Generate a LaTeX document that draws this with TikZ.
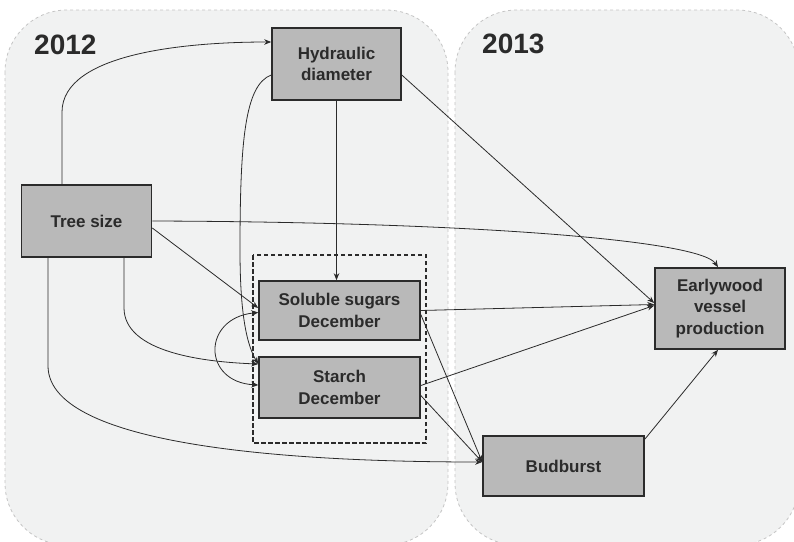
\documentclass[tikz,border=0pt]{standalone}
\usepackage{fontspec}
\setmainfont{Liberation Sans}
\usetikzlibrary{arrows.meta,calc}
\definecolor{panelfill}{HTML}{F1F2F2}
\definecolor{panelline}{HTML}{C4C4C4}
\definecolor{boxfill}{HTML}{B9B9B9}
\definecolor{ink}{HTML}{2B2B2B}
\tikzset{
  panel/.style={fill=panelfill,draw=panelline,dashed,line width=0.8pt,rounded corners=62pt},
  varbox/.style={draw=ink,line width=1.6pt,fill=boxfill,align=center,inner sep=0pt,
    font=\fontsize{17}{21.5}\selectfont\bfseries,text=ink},
  link/.style={draw=ink,line width=0.8pt,-{Stealth[length=7pt,width=5.5pt]}},
  biglink/.style={draw=ink,line width=0.8pt,{Stealth[length=7pt,width=6pt]}-{Stealth[length=7pt,width=6pt]}},
  yearlabel/.style={font=\fontsize{28}{30}\selectfont\bfseries,text=ink,inner sep=0pt,anchor=west},
  groupbox/.style={draw=ink,line width=1.2pt,dash pattern=on 4.5pt off 2.5pt}
}
\begin{document}
\begin{tikzpicture}[x=1pt,y=-1pt]
\useasboundingbox (0,0) rectangle (794,541);
% panels
\path[panel] (5,10) rectangle (448,545);
\path[panel] (455,10) rectangle (799,545);
\node[yearlabel] (y12) at (34,45) {2012};
\node[yearlabel] (y13) at (482,44) {2013};
% dashed group box
\draw[groupbox] (253,255) rectangle (426,443);
% nodes
\node[varbox,minimum width=129pt,minimum height=72pt] (hd) at (336.5,64) {Hydraulic\\diameter};
\node[varbox,minimum width=130pt,minimum height=72pt] (ts) at (86.5,221) {Tree size};
\node[varbox,minimum width=161pt,minimum height=59pt] (ss) at (339.5,310.5) {Soluble sugars\\December};
\node[varbox,minimum width=161pt,minimum height=61pt] (st) at (339.5,387.5) {Starch\\December};
\node[varbox,minimum width=161pt,minimum height=60pt] (bb) at (563.5,466) {Budburst};
\node[varbox,minimum width=130pt,minimum height=81pt] (ew) at (720,308.5) {Earlywood\\vessel\\production};
% connectors
\draw[link] ([xshift=-24.5pt]ts.north) -- ++(0,-72) .. controls ++(0,-60) and (190,42) .. ([yshift=22pt]hd.west);
\draw[link] (ts.east) .. controls (470,222) and (700,240) .. ([xshift=-2pt]ew.north);
\draw[link] ([yshift=-7pt]ts.east) -- ([yshift=2.5pt]ss.west);
\draw[link] ([xshift=37.5pt]ts.south) -- ++(0,50) .. controls ++(0,45) and (205,362) .. ([yshift=23.5pt]st.west);
\draw[link] ([xshift=-38.5pt]ts.south) -- ++(0,108) .. controls ++(0,85) and (320,462) .. ([yshift=4pt]bb.west);
\draw[link] (hd.south) -- (hd.south |- ss.north);
\draw[link] ([yshift=-11pt]hd.west) .. controls (245,85) and (240,140) .. (240,250) .. controls (240,300) and (244,340) .. ([yshift=23.5pt]st.west);
\draw[link] ([yshift=-11pt]hd.east) -- ([yshift=5.5pt]ew.west);
\draw[link] (ss.east) -- ([yshift=4pt]ew.west);
\draw[link] ([yshift=2pt]st.east) -- ([yshift=3pt]ew.west);
\draw[link] ([yshift=-4pt]ss.east) -- ([yshift=4pt]bb.west);
\draw[link] ([yshift=-8pt]st.east) -- ([yshift=4pt]bb.west);
\draw[link] ([yshift=-4pt]bb.north east) -- ([xshift=-2pt]ew.south);
\draw[biglink] ([yshift=-2pt]ss.west) .. controls (202,318) and (202,382) .. ([yshift=2.5pt]st.west);
\end{tikzpicture}
\end{document}
